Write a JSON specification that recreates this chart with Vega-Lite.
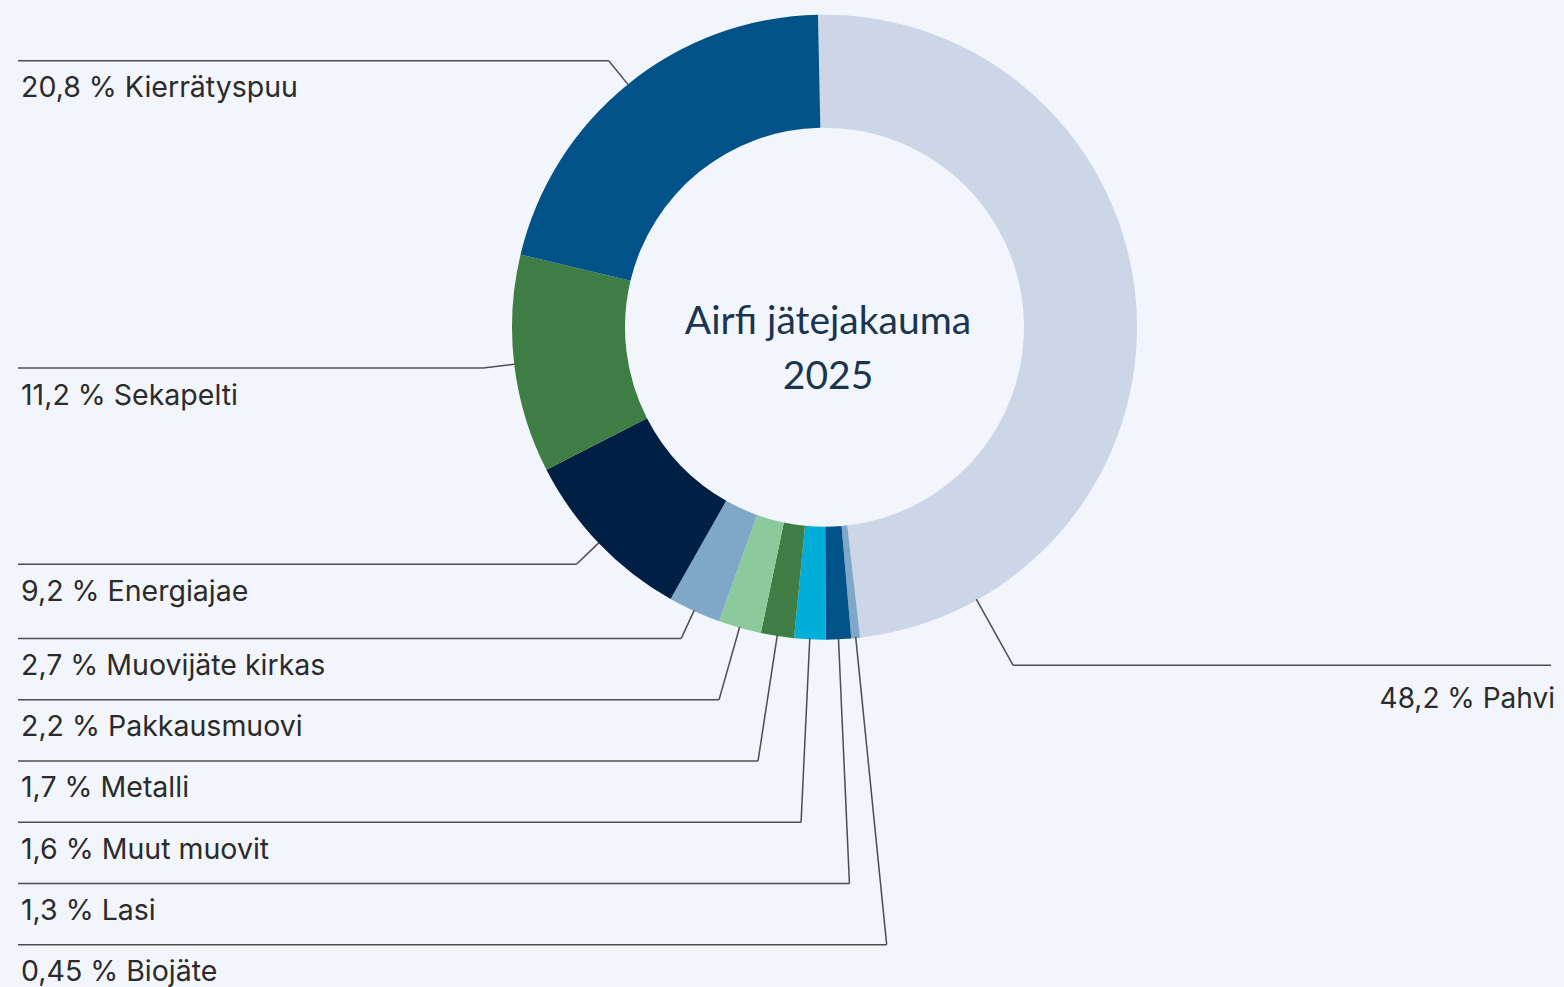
{
  "$schema": "https://vega.github.io/schema/vega-lite/v6.json",
  "width": 1564,
  "height": 987,
  "autosize": {"type": "fit", "contains": "padding"},
  "padding": 0,
  "background": "#F2F5FB",
  "config": {"view": {"stroke": null}},
  "layer": [
    {
      "data": {
        "values": [
          {"category": "Pahvi", "value": 48.2, "label": "48,2 % Pahvi", "order": 1},
          {"category": "Biojäte", "value": 0.45, "label": "0,45 % Biojäte", "order": 2},
          {"category": "Lasi", "value": 1.3, "label": "1,3 % Lasi", "order": 3},
          {"category": "Muut muovit", "value": 1.6, "label": "1,6 % Muut muovit", "order": 4},
          {"category": "Metalli", "value": 1.7, "label": "1,7 % Metalli", "order": 5},
          {"category": "Pakkausmuovi", "value": 2.2, "label": "2,2 % Pakkausmuovi", "order": 6},
          {"category": "Muovijäte kirkas", "value": 2.7, "label": "2,7 % Muovijäte kirkas", "order": 7},
          {"category": "Energiajae", "value": 9.2, "label": "9,2 % Energiajae", "order": 8},
          {"category": "Sekapelti", "value": 11.2, "label": "11,2 % Sekapelti", "order": 9},
          {"category": "Kierrätyspuu", "value": 20.8, "label": "20,8 % Kierrätyspuu", "order": 10}
        ]
      },
      "transform": [
        {"joinaggregate": [{"op": "sum", "field": "value", "as": "total"}]},
        {"window": [{"op": "sum", "field": "value", "as": "cum"}], "sort": [{"field": "order", "order": "ascending"}], "frame": [null, 0]},
        {"calculate": "-0.0209 + 2*PI*(datum.cum - datum.value/2)/datum.total", "as": "mid"},
        {"calculate": "-0.0209 + 2*PI*datum.cum/datum.total", "as": "end"},
        {"calculate": "datum.mid < 0.8*PI ? 'right' : 'left'", "as": "side"},
        {"calculate": "datum.side === 'right' ? datum.end - 0.393 : datum.mid", "as": "a"},
        {"calculate": "datum.side === 'right' ? datum.a : -datum.a", "as": "sk"},
        {"calculate": "datum.side === 'right' ? 1.243 : 1.1", "as": "rl"},
        {"calculate": "sin(datum.a)", "as": "ax"},
        {"calculate": "cos(datum.a)", "as": "ay"},
        {"calculate": "datum.rl * datum.ay", "as": "ny"},
        {"window": [{"op": "row_number", "as": "rank"}], "groupby": ["side"], "sort": [{"field": "sk", "order": "ascending"}]},
        {"calculate": "datum.ny + (datum.rank - 1) * 0.1968", "as": "key"},
        {"window": [{"op": "min", "field": "key", "as": "cmin"}], "groupby": ["side"], "sort": [{"field": "sk", "order": "ascending"}], "frame": [null, 0]},
        {"calculate": "datum.cmin - (datum.rank - 1) * 0.1968", "as": "ly"},
        {"calculate": "datum.ax * clamp(datum.ly / datum.ay, 1, 3)", "as": "ex"},
        {"calculate": "datum.side === 'right' ? 2.3248 : -2.5808", "as": "tx"},
        {"calculate": "datum.side === 'right' ? 2.3376 : -2.5712", "as": "lx"}
      ],
      "layer": [
        {
          "mark": {"type": "arc", "radius": 312.5, "radius2": 199.5},
          "encoding": {
            "theta": {"field": "value", "type": "quantitative", "stack": true, "scale": {"range": [-0.0209, 6.2623]}},
            "order": {"field": "order", "type": "quantitative", "sort": "ascending"},
            "color": {
              "field": "category",
              "type": "nominal",
              "legend": null,
              "scale": {
                "domain": ["Pahvi", "Biojäte", "Lasi", "Muut muovit", "Metalli", "Pakkausmuovi", "Muovijäte kirkas", "Energiajae", "Sekapelti", "Kierrätyspuu"],
                "range": ["#CCD6E6", "#7FA7C8", "#02528A", "#00AEDA", "#3E7D44", "#8DCA9B", "#7FA7C8", "#001F45", "#3E7D44", "#02528A"]
              }
            },
            "x": {"datum": 0, "type": "quantitative", "axis": null, "scale": {"domain": [-2.6384, 2.3664], "nice": false, "zero": false}},
            "y": {"datum": 0, "type": "quantitative", "axis": null, "scale": {"domain": [-2.1072, 1.0512], "nice": false, "zero": false}}
          }
        },
        {
          "mark": {"type": "rule", "stroke": "#4d4d4d", "strokeWidth": 1.5},
          "encoding": {
            "x": {"field": "ax", "type": "quantitative", "axis": null, "scale": {"domain": [-2.6384, 2.3664], "nice": false, "zero": false}},
            "y": {"field": "ay", "type": "quantitative", "axis": null, "scale": {"domain": [-2.1072, 1.0512], "nice": false, "zero": false}},
            "x2": {"field": "ex"},
            "y2": {"field": "ly"}
          }
        },
        {
          "mark": {"type": "rule", "stroke": "#4d4d4d", "strokeWidth": 1.5},
          "encoding": {
            "x": {"field": "ex", "type": "quantitative", "axis": null, "scale": {"domain": [-2.6384, 2.3664], "nice": false, "zero": false}},
            "y": {"field": "ly", "type": "quantitative", "axis": null, "scale": {"domain": [-2.1072, 1.0512], "nice": false, "zero": false}},
            "x2": {"field": "tx"},
            "y2": {"field": "ly"}
          }
        },
        {
          "transform": [{"filter": "datum.side === 'left'"}],
          "mark": {"type": "text", "align": "left", "baseline": "alphabetic", "dy": 36.5, "font": "Inter", "fontSize": 28.5, "fill": "#2b2b2b"},
          "encoding": {
            "x": {"field": "lx", "type": "quantitative", "axis": null, "scale": {"domain": [-2.6384, 2.3664], "nice": false, "zero": false}},
            "y": {"field": "ly", "type": "quantitative", "axis": null, "scale": {"domain": [-2.1072, 1.0512], "nice": false, "zero": false}},
            "text": {"field": "label"}
          }
        },
        {
          "transform": [{"filter": "datum.side === 'right'"}],
          "mark": {"type": "text", "align": "right", "baseline": "alphabetic", "dy": 42.7, "font": "Inter", "fontSize": 28, "fill": "#2b2b2b"},
          "encoding": {
            "x": {"field": "lx", "type": "quantitative", "axis": null, "scale": {"domain": [-2.6384, 2.3664], "nice": false, "zero": false}},
            "y": {"field": "ly", "type": "quantitative", "axis": null, "scale": {"domain": [-2.1072, 1.0512], "nice": false, "zero": false}},
            "text": {"field": "label"}
          }
        }
      ]
    },
    {
      "data": {"values": [{"title": "Airfi jätejakauma 2025"}]},
      "mark": {"type": "text", "align": "center", "baseline": "alphabetic", "dx": 3.5, "dy": 6.5, "lineHeight": 55, "font": "Lato", "fontSize": 39, "fill": "#1B3550"},
      "encoding": {
        "x": {"datum": 0, "type": "quantitative", "axis": null, "scale": {"domain": [-2.6384, 2.3664], "nice": false, "zero": false}},
        "y": {"datum": 0, "type": "quantitative", "axis": null, "scale": {"domain": [-2.1072, 1.0512], "nice": false, "zero": false}},
        "text": {"value": ["Airfi jätejakauma", "2025"]}
      }
    }
  ]
}
